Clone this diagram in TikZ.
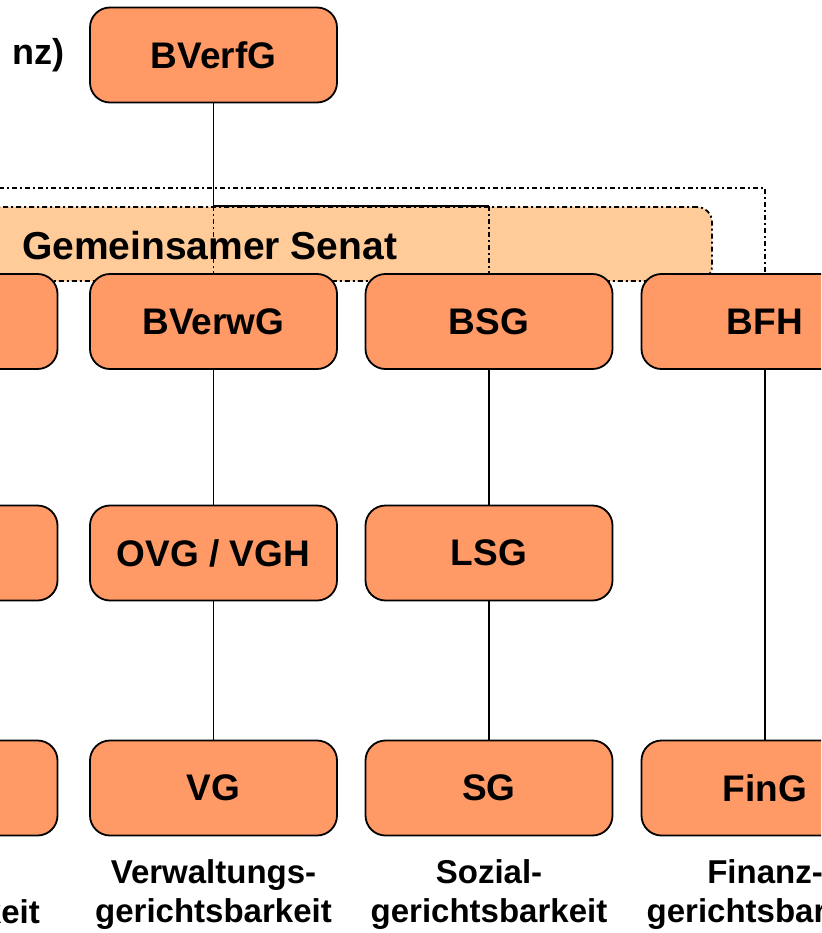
\documentclass[tikz,border=0pt]{standalone}
\usepackage{fontspec}
\setmainfont{Liberation Sans}
\definecolor{boxfill}{RGB}{255,153,102}
\definecolor{senatfill}{RGB}{255,204,153}
\begin{document}
\begin{tikzpicture}[x=1pt,y=-1pt,
  court/.style={draw=black, line width=1.8pt, fill=boxfill, rounded corners=20pt,
    minimum width=247pt, minimum height=95pt, inner sep=0pt,
    font=\fontsize{37}{42}\selectfont\bfseries},
  senatbox/.style={draw=black, line width=1.8pt, fill=senatfill, rounded corners=15pt,
    dash pattern=on 5pt off 3pt on 2pt off 3pt,
    minimum width=1012pt, minimum height=74pt, inner sep=0pt},
  link/.style={draw=black, line width=1.8pt},
  dotline/.style={draw=black, line width=1.8pt, dash pattern=on 5pt off 3pt on 2pt off 3pt},
  lab/.style={font=\fontsize{33}{39}\selectfont\bfseries, align=center, inner sep=0pt},
  big/.style={font=\fontsize{36}{42}\selectfont\bfseries, inner sep=0pt}]
\useasboundingbox (0,0) rectangle (821,933);
\clip (0,0) rectangle (821,933);
% Gemeinsamer Senat (behind the courts)
\node[senatbox] (senat) at (206,244) {};
\node[big, anchor=west, font=\fontsize{39}{44}\selectfont\bfseries] (senattext) at (22,246) {Gemeinsamer Senat};
% top
\node[big, anchor=west] (instanz) at (12,55) {nz)};
\node[court] (bverfg) at (213.5,55) {BVerfG};
% row 1
\node[court] (l1) at (-66,321.5) {};
\node[court] (bverwg) at (213.5,321.5) {BVerwG};
\node[court] (bsg) at (489,321.5) {BSG};
\node[court] (bfh) at (765,321.5) {BFH};
% row 2
\node[court] (l2) at (-66,553) {};
\node[court] (ovg) at (213.5,553) {OVG / VGH};
\node[court] (lsg) at (489,553) {LSG};
% row 3
\node[court] (l3) at (-66,788) {};
\node[court] (vg) at (213.5,788) {VG};
\node[court] (sg) at (489,788) {SG};
\node[court] (fing) at (765,788) {FinG};
% connectors
\coordinate (j1) at (bverfg |- senat.north);
\coordinate (j2) at (bsg |- senat.north);
\coordinate (o1) at (-300,188);
\draw[link] (bverfg.south) -- (j1) -- (j2);
\draw[dotline] (j1) -- (bverwg.north);
\draw[dotline] (j2) -- (bsg.north);
\draw[dotline] (o1) -| (bfh.north);
\draw[link] (bverwg) -- (ovg);
\draw[link] (ovg) -- (vg);
\draw[link] (bsg) -- (lsg);
\draw[link] (lsg) -- (sg);
\draw[link] (bfh) -- (fing);
% labels
\node[lab, anchor=east] (la) at (40,915) {gerichtsbarkeit};
\node[lab] (lv) at (213.5,895) {Verwaltungs-\\gerichtsbarkeit};
\node[lab] (ls) at (489,895) {Sozial-\\gerichtsbarkeit};
\node[lab] (lf) at (765,895) {Finanz-\\gerichtsbarkeit};
\end{tikzpicture}
\end{document}
